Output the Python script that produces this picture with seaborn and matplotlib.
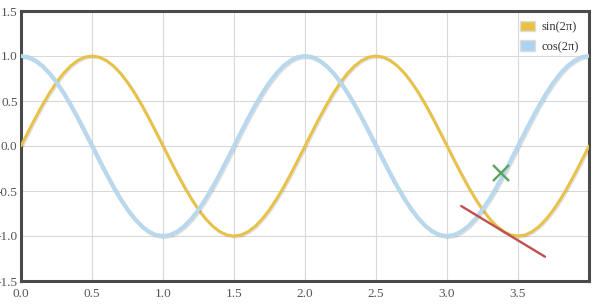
import matplotlib
matplotlib.use("Agg")
import matplotlib.pyplot as plt
import matplotlib.patheffects as pe
from matplotlib.patches import Patch
import seaborn as sns
import pandas as pd

x_vals = [round(i * 0.05, 2) for i in range(81)]

sin_vals = [0.0, 0.156, 0.309, 0.454, 0.588, 0.707, 0.809, 0.891, 0.951, 0.988, 1.0,
            0.988, 0.951, 0.891, 0.809, 0.707, 0.588, 0.454, 0.309, 0.156, 0.0,
            -0.156, -0.309, -0.454, -0.588, -0.707, -0.809, -0.891, -0.951, -0.988, -1.0,
            -0.988, -0.951, -0.891, -0.809, -0.707, -0.588, -0.454, -0.309, -0.156, 0.0,
            0.156, 0.309, 0.454, 0.588, 0.707, 0.809, 0.891, 0.951, 0.988, 1.0,
            0.988, 0.951, 0.891, 0.809, 0.707, 0.588, 0.454, 0.309, 0.156, 0.0,
            -0.156, -0.309, -0.454, -0.588, -0.707, -0.809, -0.891, -0.951, -0.988, -1.0,
            -0.988, -0.951, -0.891, -0.809, -0.707, -0.588, -0.454, -0.309, -0.156, 0.0]

cos_vals = [1.0, 0.988, 0.951, 0.891, 0.809, 0.707, 0.588, 0.454, 0.309, 0.156, 0.0,
            -0.156, -0.309, -0.454, -0.588, -0.707, -0.809, -0.891, -0.951, -0.988, -1.0,
            -0.988, -0.951, -0.891, -0.809, -0.707, -0.588, -0.454, -0.309, -0.156, 0.0,
            0.156, 0.309, 0.454, 0.588, 0.707, 0.809, 0.891, 0.951, 0.988, 1.0,
            0.988, 0.951, 0.891, 0.809, 0.707, 0.588, 0.454, 0.309, 0.156, 0.0,
            -0.156, -0.309, -0.454, -0.588, -0.707, -0.809, -0.891, -0.951, -0.988, -1.0,
            -0.988, -0.951, -0.891, -0.809, -0.707, -0.588, -0.454, -0.309, -0.156, 0.0,
            0.156, 0.309, 0.454, 0.588, 0.707, 0.809, 0.891, 0.951, 0.988, 1.0]

series_names = ["sin(2π)", "cos(2π)"]
series_colors = ["#E8C246", "#B8D8EE"]

marker_x = [3.38]
marker_y = [-0.3]
seg_x = [3.1, 3.69]
seg_y = [-0.667, -1.23]

x_ticks = [0.0, 0.5, 1.0, 1.5, 2.0, 2.5, 3.0, 3.5]
y_ticks = [-1.5, -1.0, -0.5, 0.0, 0.5, 1.0, 1.5]

sns.set_style("white")
plt.rcParams["font.family"] = ["Liberation Serif", "DejaVu Serif"]
plt.rcParams["axes.unicode_minus"] = False

fig = plt.figure(figsize=(6.05, 3.06), dpi=100)
ax = fig.add_axes([21 / 605, 25 / 306, 568 / 605, 270 / 306])

df_sin = pd.DataFrame({"x": x_vals, "y": sin_vals})
df_cos = pd.DataFrame({"x": x_vals, "y": cos_vals})

shadow = [pe.SimpleLineShadow(offset=(0.8, -0.8), alpha=0.12), pe.Normal()]
sns.lineplot(data=df_sin, x="x", y="y", ax=ax, color=series_colors[0], lw=2.1,
             path_effects=shadow, zorder=3)
sns.lineplot(data=df_cos, x="x", y="y", ax=ax, color=series_colors[1], lw=2.9,
             path_effects=shadow, zorder=3)

sns.lineplot(x=seg_x, y=seg_y, ax=ax, color="#C0504D", lw=1.7, zorder=4)
ax.plot(marker_x, marker_y, marker="x", color="#5BA35F", markersize=12,
        markeredgewidth=1.7, linestyle="none", zorder=5)

ax.set_xlim(0, 4)
ax.set_ylim(-1.5, 1.5)
ax.set_xticks(x_ticks + [4.0])
ax.set_xticklabels([f"{v:.1f}" for v in x_ticks] + [""])
ax.set_yticks(y_ticks)
ax.set_yticklabels([f"{v:.1f}" for v in y_ticks])
ax.grid(True, color="#D9D9D9", lw=0.8)
ax.set_axisbelow(True)
ax.tick_params(length=0, labelsize=9.5, colors="#555555")
ax.tick_params(axis="x", pad=5)
ax.tick_params(axis="y", pad=2.5)
ax.set_xlabel("")
ax.set_ylabel("")
for s in ax.spines.values():
    s.set_color("#4A4A4A")
    s.set_linewidth(2.2)
    s.set_visible(True)

handles = [Patch(facecolor=series_colors[0], edgecolor="#dddddd"),
           Patch(facecolor="#AED3F2", edgecolor="#dddddd")]
leg = ax.legend(handles, series_names, loc="upper right", frameon=False,
                fontsize=9, handlelength=1.2, handleheight=0.9,
                handletextpad=0.5, labelspacing=0.55, borderaxespad=0.4)
for t in leg.get_texts():
    t.set_color("#333333")

fig.savefig("out.png", dpi=100)
